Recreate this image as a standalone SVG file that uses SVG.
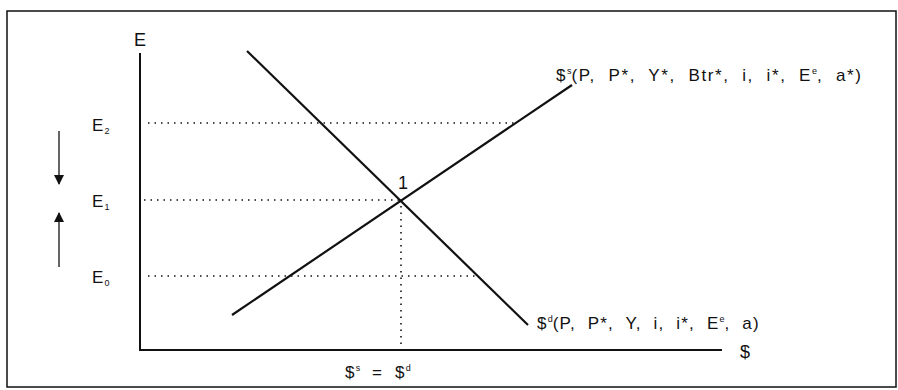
<svg xmlns="http://www.w3.org/2000/svg" width="898" height="390" viewBox="0 0 898 390">
<defs>
<style>
text{font-family:"Liberation Sans",Arial,sans-serif;fill:#111;white-space:pre}
.lbl{font-size:17px;letter-spacing:1.2px}
.wide{letter-spacing:1.6px}
.ax{font-size:18px}
.sub{font-size:9px;letter-spacing:0}
.axis{stroke:#111;stroke-width:2;fill:none}
.curve{stroke:#111;stroke-width:2.2;fill:none}
.dot{stroke:#111;stroke-width:1.6;stroke-dasharray:1.5 5;fill:none}
.arr{stroke:#111;stroke-width:1.3;fill:none}
</style>
<marker id="ah" viewBox="0 0 10 10" refX="9" refY="5" markerWidth="12" markerHeight="10" markerUnits="userSpaceOnUse" orient="auto"><path d="M0,0 L10,5 L0,10 z" fill="#111"/></marker>
</defs>
<rect width="898" height="390" fill="#fff"/>
<rect x="7" y="11" width="889" height="376" fill="none" stroke="#111" stroke-width="1.5"/>
<g id="axes">
<path class="axis" d="M140,53 V350 H722"/>
<text class="ax" x="140" y="46" text-anchor="middle">E</text>
<text class="ax" x="745" y="358" text-anchor="middle">$</text>
</g>
<g id="levels">
<text class="lbl" x="92" y="131">E<tspan class="sub" dy="3">2</tspan></text>
<text class="lbl" x="92" y="207">E<tspan class="sub" dy="3">1</tspan></text>
<text class="lbl" x="92" y="283">E<tspan class="sub" dy="3">0</tspan></text>
</g>
<g id="connectors">
<path class="dot" d="M148,123 H514"/>
<path class="dot" d="M144,200 H400"/>
<path class="dot" d="M148,276 H478"/>
<path class="dot" d="M401,206 V344"/>
<path class="arr" d="M59,131 V184" marker-end="url(#ah)"/>
<path class="arr" d="M59,267 V213" marker-end="url(#ah)"/>
</g>
<g id="supply">
<path class="curve" d="M232,315 L572,85"/>
<text class="lbl wide" x="556" y="81">$<tspan class="sub" dy="-7">s</tspan><tspan dy="7">(P,  P*,  Y*,  Btr*,  i,  i*,  E</tspan><tspan class="sub" dy="-7">e</tspan><tspan dy="7">,  a*)</tspan></text>
</g>
<g id="demand">
<path class="curve" d="M247,51 L528,325"/>
<text class="lbl" x="537" y="329">$<tspan class="sub" dy="-7">d</tspan><tspan dy="7">(P,  P*,  Y,  i,  i*,  E</tspan><tspan class="sub" dy="-7">e</tspan><tspan dy="7">,  a)</tspan></text>
</g>
<g id="equilibrium">
<text class="ax" x="403" y="189" text-anchor="middle">1</text>
<text class="lbl" x="345" y="378">$<tspan class="sub" dy="-7">s</tspan><tspan dy="7">  =  $</tspan><tspan class="sub" dy="-7">d</tspan></text>
</g>
</svg>
